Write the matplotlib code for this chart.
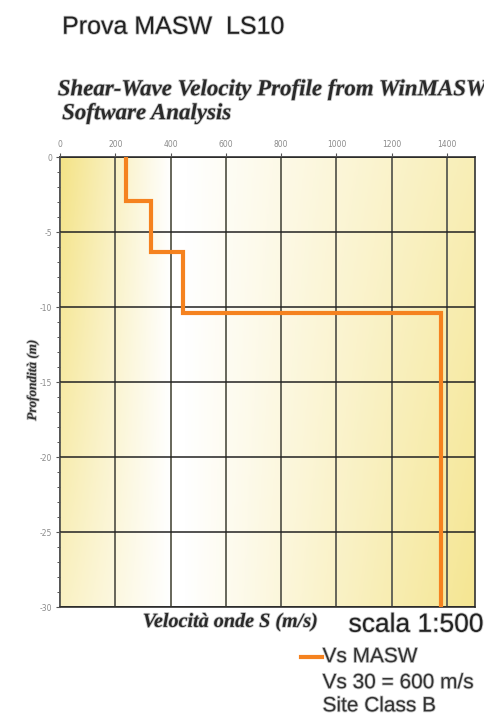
import numpy as np
import matplotlib.pyplot as plt
import matplotlib.patheffects as pe
from matplotlib.colors import LinearSegmentedColormap
from matplotlib.ticker import MultipleLocator

plt.rcParams['axes.unicode_minus'] = False

# Vs profile (step function)
vs = [240, 330, 445, 1380]          # m/s
top = [0, -2.9, -6.3, -10.4]        # layer top depth (m)
bottom = [-2.9, -6.3, -10.4, -30]   # layer bottom depth (m)

x_ticks = [0, 200, 400, 600, 800, 1000, 1200, 1400]
y_ticks = [0, -5, -10, -15, -20, -25, -30]

# build step line from the layers
line_x = []
line_y = []
for v, t, b in zip(vs, top, bottom):
    line_x += [v, v]
    line_y += [t, b]

fig = plt.figure(figsize=(4.85, 7.24), dpi=100)
ax = fig.add_axes([0.1237, 0.1616, 0.855, 0.6215])

# background gradient: yellow at the sides, white in the middle
gx = np.linspace(0, 1500, 300)
gy = np.linspace(0, -30, 150)
GX, GY = np.meshgrid(gx, gy)
depth = -GY / 30
left = np.clip((400 - GX) / 400, 0, 1) * (1 - 0.5 * depth)
right = np.clip((GX - 450) / 1050, 0, 1) * (0.6 + 0.3 * depth)
w = np.clip(left + right, 0, 1)
cmap = LinearSegmentedColormap.from_list("bg", ["#ffffff", "#f4e386"])
ax.imshow(w, extent=[0, 1500, -30, 0], aspect="auto", cmap=cmap,
          vmin=0, vmax=1, origin="upper", zorder=0)

ax.plot(line_x, line_y, color="#f5821f", lw=3, zorder=3, solid_joinstyle="miter")

ax.set_xlim(0, 1500)
ax.set_ylim(-30, 0)
ax.set_xticks(x_ticks)
ax.set_yticks(y_ticks)
ax.yaxis.set_minor_locator(MultipleLocator(1))
ax.xaxis.tick_top()
ax.tick_params(axis="both", which="major", labelsize=5.5, labelcolor="#8a8a8a",
               length=3, width=0.8, color="#555555", pad=2.5)
ax.tick_params(axis="y", which="minor", length=2, width=0.7, color="#555555")
ax.grid(True, axis="x", color="#66665a", lw=1.4, zorder=2)
ax.grid(True, axis="y", color="#222222", lw=1.1, zorder=2)
ax.set_axisbelow(False)
for s in ax.spines.values():
    s.set_color("#333333")
    s.set_linewidth(1.2)

shadow = [pe.withStroke(linewidth=1.2, foreground="#c8c8c8")]
serif = "Liberation Serif"
sans = "Liberation Sans"
fig.text(0.128, 0.963, "Prova MASW  LS10", fontsize=18, family=sans,
         color="#222222", va="center", path_effects=shadow)
fig.text(0.119, 0.876, "Shear-Wave Velocity Profile from WinMASW", fontsize=16.5,
         family=serif, weight="bold", style="italic", color="#2a2a2a", va="center",
         path_effects=shadow)
fig.text(0.128, 0.843, "Software Analysis", fontsize=16.5,
         family=serif, weight="bold", style="italic", color="#2a2a2a", va="center",
         path_effects=shadow)
fig.text(0.068, 0.475, "Profondità (m)", fontsize=9.5, family=serif, weight="bold",
         style="italic", color="#333333", rotation=90, ha="center", va="center",
         path_effects=shadow)
fig.text(0.475, 0.141, "Velocità onde S (m/s)", fontsize=14.5, family=serif,
         weight="bold", style="italic", color="#2a2a2a", ha="center", va="center",
         path_effects=shadow)
fig.text(0.997, 0.137, "scala 1:500", fontsize=19, family=sans,
         color="#222222", ha="right", va="center", path_effects=shadow)

# legend block
fig.lines.append(plt.Line2D([0.62, 0.663], [0.093, 0.093], color="#f5821f", lw=3,
                            transform=fig.transFigure))
fig.text(0.665, 0.093, "Vs MASW", fontsize=15, family=sans,
         color="#333333", va="center", path_effects=shadow)
fig.text(0.665, 0.057, "Vs 30 = 600 m/s", fontsize=15, family=sans,
         color="#333333", va="center", path_effects=shadow)
fig.text(0.665, 0.025, "Site Class B", fontsize=15, family=sans,
         color="#333333", va="center", path_effects=shadow)

fig.savefig("out.png", dpi=100)
